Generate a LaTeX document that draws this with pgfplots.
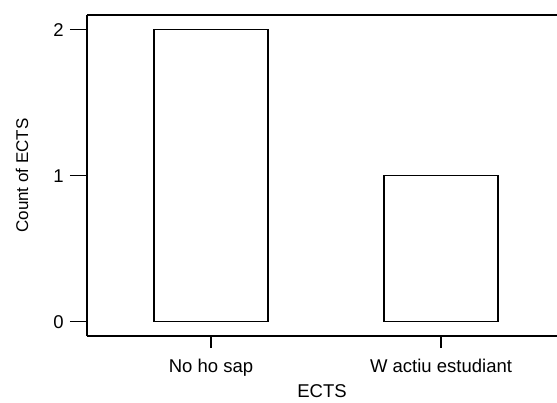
\documentclass[border=0pt]{standalone}
\usepackage{fontspec}
\setmainfont{Liberation Sans}
\usepackage{pgfplots}
\pgfplotsset{compat=1.18}
\begin{document}
\fontsize{18.5bp}{22bp}\selectfont
\begin{tikzpicture}
\begin{axis}[
  scale only axis,
  width=470bp, height=321bp,
  xmin=-0.539, xmax=1.504,
  ymin=-0.098, ymax=2.1,
  separate axis lines,
  axis x line=box,
  axis y line=left,
  axis line style={line width=1.8bp, -},
  ybar, bar width=114bp,
  xtick={0,1}, xticklabels={No ho sap, W actiu estudiant},
  ytick={0,1,2},
  tick align=outside,
  major tick length=17bp,
  xtick style={/pgfplots/major tick length=12bp},
  tick style={line width=1.6bp, black},
  xtick pos=bottom, ytick pos=left,
  /pgf/number format/assume math mode=true,
  ticklabel style={font=\fontsize{18.5bp}{22bp}\selectfont},
  xlabel={ECTS}, ylabel={Count of ECTS},
  every axis x label/.style={at={(rel axis cs:0.5,0)}, anchor=base, yshift=-61bp, font=\fontsize{18.5bp}{22bp}\selectfont},
  every axis y label/.style={at={(rel axis cs:0,0.5)}, rotate=90, anchor=center, yshift=65bp, font=\fontsize{17bp}{20bp}\selectfont},
  clip=false,
]
\addplot[fill=white, draw=black, line width=1.6bp] coordinates {(0,2) (1,1)};
\coordinate (o) at (rel axis cs:0,0);
\end{axis}
\pgfresetboundingbox
\path (o) ++(-87bp,-67bp) rectangle ++(557bp,403bp);
\end{tikzpicture}
\end{document}
